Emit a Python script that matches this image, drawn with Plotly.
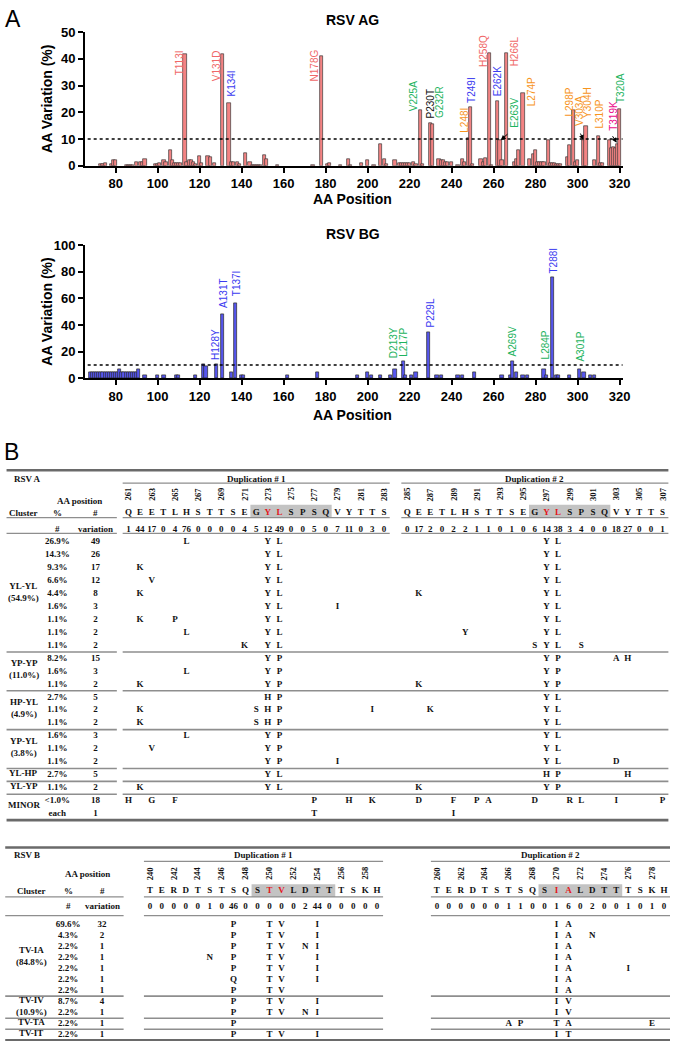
import plotly.graph_objects as go

SANS = "Arial, Liberation Sans, sans-serif"
SERIF = "Times New Roman, Liberation Serif, serif"
W, H = 678, 1049

# ---------------------------------------------------------------- panel A data
# RSV AG: amino-acid position -> variation (%)
ag_pos = [73, 74, 75, 78, 79, 80, 85, 86, 87, 88, 90, 92, 93, 94,
          99, 100, 101, 103, 104, 106, 107, 108, 109, 110, 111, 113, 114, 115, 116, 117, 118,
          120, 121, 124, 125, 127, 131, 134, 135, 136, 138, 139, 142, 144,
          145, 146, 147, 148, 149, 151, 152, 157, 174, 178, 181, 182, 187, 191, 192,
          197, 200, 203, 206, 208, 209, 213, 215, 216, 217, 218, 219, 220,
          222, 223, 225, 226, 230, 231, 234, 235, 236, 237, 238, 240,
          243, 245, 246, 248, 249, 250, 254, 255, 256, 258, 259,
          262, 263, 264, 266, 270, 271, 272, 274, 277, 279, 280,
          281, 282, 283, 284, 286, 287, 288, 289, 290, 291, 292,
          295, 296, 298, 299, 300, 303, 304, 308, 310, 311, 312,
          315, 316, 317, 318, 319, 320]
ag_val = [0.5, 0.5, 1.1, 0.6, 1.9, 1.9, 0.3, 0.3, 0.3, 0.3, 1.3, 1.5, 1.5, 2.5,
          0.4, 0.6, 0.8, 1.9, 1.2, 5.8, 1.9, 0.9, 0.9, 0.9, 0.9, 41.8, 1.5, 2.0, 2.2, 1.5, 0.6,
          3.6, 0.9, 3.6, 3.1, 0.9, 41.8, 23.6, 1.2, 1.3, 1.3, 0.7, 4.7, 1.3,
          0.3, 0.3, 0.3, 0.3, 0.3, 4.1, 2.5, 0.3, 0.3, 41.2, 0.4, 0.9, 0.3, 2.5, 0.3,
          1.0, 2.0, 0.3, 8.2, 2.5, 0.5, 2.0, 1.0, 1.0, 1.0, 1.0, 1.0, 1.0,
          1.5, 0.5, 20.9, 0.5, 15.9, 15.4, 2.5, 2.0, 2.0, 1.5, 1.5, 1.3,
          0.3, 2.5, 1.3, 10.4, 22.1, 0.5, 2.5, 1.5, 2.7, 42.3, 0.3,
          24.1, 9.4, 2.0, 42.3, 1.5, 2.5, 6.0, 27.0, 2.5, 4.4, 5.9,
          1.5, 1.5, 1.5, 1.5, 9.4, 0.8, 0.8, 0.8, 0.5, 0.5, 0.5,
          3.3, 7.7, 20.9, 1.5, 2.2, 9.4, 14.8, 2.0, 11.0, 0.8, 0.8,
          9.4, 6.6, 7.1, 6.6, 8.2, 21.3]

# RSV BG
bg_pos = [68, 69, 70, 71, 72, 73, 74, 75, 76, 77, 78, 79, 80, 81, 82, 83, 84, 85, 86, 87, 88, 89, 90, 91,
          94, 100, 103, 109, 110, 118, 122, 123, 128, 131, 135, 137, 140, 141, 162, 176,
          195, 200, 202, 206, 211, 213, 217, 218, 221, 223, 229, 233, 235, 243, 245, 251,
          264, 268, 269, 271, 274, 276, 284, 285, 288, 290, 291, 296, 301, 303, 306, 308]
bg_val = [4.3, 4.3, 4.3, 4.3, 4.3, 4.3, 4.3, 4.3, 4.3, 4.3, 4.3, 4.3, 4.3, 4.3, 6.5, 4.3, 4.3, 4.3, 4.3, 4.3, 4.3, 4.3, 4.3, 6.5,
          2.2, 2.2, 2.2, 2.2, 2.2, 2.2, 10.9, 8.7, 10.9, 47.8, 4.3, 56.5, 2.2, 2.2, 2.2, 4.3,
          2.2, 4.3, 2.2, 2.2, 2.2, 6.5, 13.0, 2.2, 2.2, 4.3, 34.8, 2.2, 2.2, 2.2, 2.2, 4.3,
          2.2, 2.2, 13.0, 4.3, 2.2, 2.2, 6.5, 2.2, 76.1, 2.2, 2.2, 2.2, 6.5, 4.3, 2.2, 2.2]

SALMON, BLUE, GREEN = "#F06868", "#3B3BF0", "#1DB35E"
ORANGE, MAGENTA, BLACK = "#F7941D", "#EC0C8C", "#111111"

ag_mut = ["T113I", "V131D", "K134I", "N178G", "V225A", "P230T", "G232R", "L248I", "T249I", "H258Q",
          "E262K", "H266L", "E263V", "L274P", "L298P", "V303A", "Y304H", "L310P", "T319K", "T320A"]
ag_mut_color = [SALMON, SALMON, BLUE, SALMON, GREEN, BLACK, GREEN, ORANGE, BLUE, SALMON,
                BLUE, SALMON, GREEN, ORANGE, ORANGE, ORANGE, ORANGE, ORANGE, MAGENTA, GREEN]
# label anchor: x, and y of the bottom of the rotated text (data units)
ag_mut_xy = [(110.3, 33.0), (127.8, 30.7), (135.0, 25.2), (174.8, 30.7), (222.0, 19.6),
             (230.0, 17.0), (234.3, 17.0), (246.0, 11.5), (249.5, 22.6), (255.5, 36.3),
             (262.0, 25.2), (270.0, 36.3), (270.0, 13.3), (278.0, 21.5), (296.3, 17.8),
             (301.0, 14.0), (305.0, 17.0), (310.6, 13.3), (316.7, 12.2), (320.5, 22.6)]
# arrows: (head x, head y, tail x, tail y)
ag_arrows = [(263.4, 9.6, 267.3, 12.3), (302.8, 9.6, 301.0, 12.6), (318.6, 8.6, 316.2, 11.6)]

bg_mut = ["H128Y", "A131T", "T137I", "D213Y", "L217P", "P229L", "A269V", "L284P", "T288I", "A301P"]
bg_mut_color = [BLUE, BLUE, BLUE, GREEN, GREEN, BLUE, GREEN, GREEN, BLUE, GREEN]
bg_mut_xy = [(127.6, 12.4), (131.0, 51.6), (137.5, 60.5), (212.0, 13.9), (217.0, 14.6),
             (230.0, 36.8), (269.0, 14.6), (284.5, 12.4), (288.5, 77.6), (301.5, 10.9)]

# ---------------------------------------------------------------- panel B data
a_starts = [261, 285]
a_seqs = ["QEETLHSTTSEGYLSPSQVYTTS", "QEETLHSTTSEGYLSPSQVYTTS"]
a_var = [[1, 44, 17, 0, 4, 76, 0, 0, 0, 0, 4, 5, 12, 49, 0, 0, 5, 0, 7, 11, 0, 3, 0],
         [0, 17, 2, 0, 2, 2, 1, 1, 0, 1, 0, 6, 14, 38, 3, 4, 0, 0, 18, 27, 0, 0, 1]]
a_boxes = [(272, 278), (296, 302)]
a_red = [273, 274, 297, 298]
a_cluster = ["YL-YL<br>(54.9%)", "YP-YP<br>(11.0%)", "HP-YL<br>(4.9%)", "YP-YL<br>(3.8%)",
             "YL-HP", "YL-YP", "MINOR"]
a_cluster_rows = [9, 3, 3, 3, 1, 1, 2]
a_pct = ["26.9%", "14.3%", "9.3%", "6.6%", "4.4%", "1.6%", "1.1%", "1.1%", "1.1%",
         "8.2%", "1.6%", "1.1%", "2.7%", "1.1%", "1.1%", "1.6%", "1.1%", "1.1%",
         "2.7%", "1.1%", "<1.0%", "each"]
a_num = [49, 26, 17, 12, 8, 3, 2, 2, 2, 15, 3, 2, 5, 2, 2, 3, 2, 2, 5, 2, 18, 1]
a_subs = ["266L 273Y 274L 297Y 298L",
          "273Y 274L 297Y 298L",
          "262K 273Y 274L 297Y 298L",
          "263V 273Y 274L 297Y 298L",
          "262K 273Y 274L 286K 297Y 298L",
          "273Y 274L 279I 297Y 298L",
          "262K 265P 273Y 274L 297Y 298L",
          "266L 273Y 274L 290Y 297Y 298L",
          "271K 273Y 274L 296S 297Y 298L 300S",
          "273Y 274P 297Y 298P 303A 304H",
          "266L 273Y 274P 297Y 298P",
          "262K 273Y 274P 286K 297Y 298P",
          "273H 274P 297Y 298L",
          "262K 272S 273H 274P 282I 287K 297Y 298L",
          "262K 272S 273H 274P 297Y 298L",
          "266L 273Y 274P 297Y 298L",
          "263V 273Y 274P 297Y 298L",
          "273Y 274P 279I 297Y 298L 303D",
          "273Y 274L 297H 298P 304H",
          "262K 273Y 274L 286K 297Y 298P",
          "261H 263G 265F 277P 280H 282K 286D 289F 291P 292A 296D 299R 300L 303I 307P",
          "277T 289I"]

b_starts = [240, 260]
b_seqs = ["TERDTSTSQSTVLDTTTSKH", "TERDTSTSQSIALDTTTSKH"]
b_var = [[0, 0, 0, 0, 0, 1, 0, 46, 0, 0, 0, 0, 0, 2, 44, 0, 0, 0, 0, 0],
         [0, 0, 0, 0, 0, 0, 1, 1, 0, 0, 1, 6, 0, 2, 0, 0, 1, 0, 1, 0]]
b_boxes = [(249, 255), (269, 275)]
b_red = [250, 251, 270, 271]
b_cluster = ["TV-IA<br>(84.8%)", "TV-IV<br>(10.9%)", "TV-TA", "TV-IT"]
b_cluster_rows = [7, 2, 1, 1]
b_pct = ["69.6%", "4.3%", "2.2%", "2.2%", "2.2%", "2.2%", "2.2%", "8.7%", "2.2%", "2.2%", "2.2%"]
b_num = [32, 2, 1, 1, 1, 1, 1, 4, 1, 1, 1]
b_subs = ["247P 250T 251V 254I 270I 271A",
          "247P 250T 251V 254I 270I 271A 273N",
          "247P 250T 251V 253N 254I 270I 271A",
          "245N 247P 250T 251V 254I 270I 271A",
          "247P 250T 251V 254I 270I 271A 276I",
          "247Q 250T 251V 254I 270I 271A",
          "247P 250T 251V 270I 271A",
          "247P 250T 251V 254I 270I 271V",
          "247P 250T 251V 253N 254I 270I 271V",
          "247P 266A 267P 270T 271A 278E",
          "247P 250T 251V 254I 270I 271T"]


def px(x):
    return x / W


def py(y):
    return 1 - y / H


fig = go.Figure()

# ---------------------------------------------------------------- bar charts
fig.add_trace(go.Bar(x=ag_pos, y=ag_val, width=1.5, marker_color="#F38383",
                     marker_line_color="#3A3A3A", marker_line_width=0.7,
                     xaxis="x", yaxis="y", showlegend=False))
fig.add_trace(go.Bar(x=bg_pos, y=bg_val, width=1.5, marker_color="#5656EE",
                     marker_line_color="#2A2A2A", marker_line_width=0.7,
                     xaxis="x2", yaxis="y2", showlegend=False))

annots = []
shapes = []

for ya, yr in (("y", 10), ("y2", 10)):
    shapes.append(dict(type="line", xref=ya.replace("y", "x") + " domain", yref=ya,
                       x0=0.005, x1=1, y0=yr, y1=yr,
                       line=dict(color="black", width=1.5, dash="dot")))

for txt, col, (lx, ly) in zip(ag_mut, ag_mut_color, ag_mut_xy):
    annots.append(dict(text=txt, x=lx, y=ly, xref="x", yref="y", textangle=-90,
                       xanchor="center", yanchor="bottom", showarrow=False,
                       font=dict(family=SANS, size=10, color=col)))
for hx, hy, tx, ty in ag_arrows:
    annots.append(dict(text="", x=hx, y=hy, ax=tx, ay=ty, xref="x", yref="y",
                       axref="x", ayref="y", showarrow=True, arrowhead=2,
                       arrowsize=1, arrowwidth=1, arrowcolor="black"))
for txt, col, (lx, ly) in zip(bg_mut, bg_mut_color, bg_mut_xy):
    annots.append(dict(text=txt, x=lx, y=ly, xref="x2", yref="y2", textangle=-90,
                       xanchor="center", yanchor="bottom", showarrow=False,
                       font=dict(family=SANS, size=10, color=col)))


def paper_note(text, x, y, font, angle=0, xanchor="center"):
    annots.append(dict(text=text, x=px(x), y=py(y), xref="paper", yref="paper",
                       xanchor=xanchor, yanchor="middle", textangle=angle,
                       showarrow=False, font=font))


bold14 = dict(family=SANS, size=14, color="black", weight="bold")
for title, ty, cy, xy in (("RSV AG", 13, 93.3, 195), ("RSV BG", 230, 309.2, 414)):
    paper_note(title, 357, ty, bold14)
    paper_note("AA Variation (%)", 47.5, cy, bold14, angle=-90)
    paper_note("AA Position", 357, xy, bold14)
paper_note("A", 3, 12, dict(family=SANS, size=23, color="black"), xanchor="left")
paper_note("B", 2, 451, dict(family=SANS, size=23, color="black"), xanchor="left")


# ---------------------------------------------------------------- tables
def col_of(pos, starts):
    for k in range(len(starts) - 1, -1, -1):
        if pos >= starts[k]:
            return pos - starts[k] + 24 * k


def add_table(xa, ya, name, starts, seqs, var, boxes, reds, clusters, cl_rows,
              pct, num, subs, L):
    xr, yr = xa.replace("axis", ""), ya.replace("axis", "")
    f9 = dict(family=SERIF, size=9, color=BLACK)

    # gray boxes behind the repeated motif
    for a, b in boxes:
        shapes.append(dict(type="rect", xref=xr, yref=yr, layer="below",
                           x0=col_of(a, starts) - 0.5, x1=col_of(b, starts) + 0.5,
                           y0=L["box"][0], y1=L["box"][1],
                           fillcolor="#C3C3C3", line_width=0))

    # reference sequence and variation counts
    sx, sy, st, sc = [], [], [], []
    for start, seq, vv in zip(starts, seqs, var):
        for i, ch in enumerate(seq):
            c = col_of(start + i, starts)
            sx += [c, c]
            sy += [L["seq_row"], L["var_row"]]
            st += ["<b>%s</b>" % ch, "<b>%d</b>" % vv[i]]
            sc += ["#E3171C" if start + i in reds else BLACK, BLACK]
            if i % 2 == 0:
                annots.append(dict(text="<b>%d</b>" % (start + i), x=c, y=L["pos_row"],
                                   xref=xr, yref=yr, textangle=-90, showarrow=False,
                                   xanchor="center", yanchor="middle",
                                   font=dict(family=SERIF, size=8.5, color=BLACK)))
    # substitutions per row
    for r, row in enumerate(subs):
        for tok in row.split():
            sx.append(col_of(int(tok[:-1]), starts))
            sy.append(r)
            st.append("<b>%s</b>" % tok[-1])
            sc.append(BLACK)
    # percent / count columns
    for r, (p, n) in enumerate(zip(pct, num)):
        sx += [L["pct_x"], L["num_x"]]
        sy += [r, r]
        st += ["<b>%s</b>" % p, "<b>%d</b>" % n]
        sc += [BLACK, BLACK]
    fig.add_trace(go.Scatter(x=sx, y=sy, text=st, mode="text", xaxis=xr, yaxis=yr,
                             textfont=dict(family=SERIF, size=9, color=sc),
                             showlegend=False, hoverinfo="skip"))

    def note(text, x, y, anchor="center"):
        annots.append(dict(text="<b>%s</b>" % text, x=x, y=y, xref=xr, yref=yr,
                           xanchor=anchor, yanchor="middle", showarrow=False, font=f9))

    note(name, L["title_x"], L["dup_row"], "left")
    note("AA position", L["aa_x"], L["aa_row"])
    note("Cluster", L["cl_x"], L["seq_row"])
    note("%", L["pct_x"], L["seq_row"])
    note("#", L["num_x"], L["seq_row"])
    note("#", L["pct_x"], L["var_row"])
    note("variation", L["num_x"], L["var_row"])
    for k, (a, b) in enumerate(L["spans"]):
        note("Duplication # %d" % (k + 1), (a + b) / 2, L["dup_row"])

    # cluster names and separators
    r0 = 0
    for cname, n in zip(clusters, cl_rows):
        note(cname, L["cl_x"], r0 + (n - 1) / 2 - 0.15)
        r0 += n
        if r0 < len(pct):
            segs = [(L["left"], L["left_end"])]
            if L["join"]:
                segs.append((L["spans"][0][0], L["spans"][-1][1]))
            else:
                segs += L["spans"]
            for a, b in segs:
                shapes.append(dict(type="line", xref=xr, yref=yr, x0=a, x1=b,
                                   y0=r0 - 0.5, y1=r0 - 0.5,
                                   line=dict(color="#8E8E8E", width=1.6)))

    def hline(y, a, b, w=1.0, c="#8E8E8E"):
        shapes.append(dict(type="line", xref=xr, yref=yr, x0=a, x1=b, y0=y, y1=y,
                           line=dict(color=c, width=w)))

    right = L["spans"][-1][1]
    hline(L["top"], L["left"], right, 2.5, "#6A6A6A")
    hline(len(pct) - 0.5, L["left"], right, 2.8, "#6A6A6A")
    for a, b in L["spans"]:
        hline(L["dup_line"], a, b, 1.2)
    for y in (L["seq_line"], L["var_line"]):
        hline(y, L["left"], L["left_end"], 1.2)
        for a, b in L["spans"]:
            hline(y, a, b, 1.2)


TA = dict(x_range=[-130 / 11.75, (W - 130) / 11.75],
          y_range=[(H - 542.7) / 13.13, -542.7 / 13.13],
          left=-10.5, left_end=-1.0, spans=[(-0.5, 22.5), (23.5, 46.5)], join=True,
          top=-5.54, dup_row=-4.85, dup_line=-4.55, pos_row=-3.7, aa_row=-3.2,
          box=(-2.87, -1.88), seq_row=-2.26, seq_line=-1.88, var_row=-0.97, var_line=-0.66,
          title_x=-10.04, aa_x=-4.26, cl_x=-9.0, pct_x=-6.13, num_x=-2.83)
TB = dict(x_range=[-151.7 / 12.1, (W - 151.7) / 12.1],
          y_range=[(H - 930.7) / 11.2, -930.7 / 11.2],
          left=-12.1, left_end=-2.2, spans=[(-0.5, 19.5), (23.5, 43.5)], join=False,
          top=-6.96, dup_row=-6.31, dup_line=-5.71, pos_row=-4.63, aa_row=-4.59,
          box=(-3.63, -2.47), seq_row=-3.04, seq_line=-2.5, var_row=-1.64, var_line=-0.8,
          title_x=-11.55, aa_x=-5.18, cl_x=-9.92, pct_x=-6.85, num_x=-4.0)

add_table("xaxis3", "yaxis3", "RSV A", a_starts, a_seqs, a_var, a_boxes, a_red,
          a_cluster, a_cluster_rows, a_pct, a_num, a_subs, TA)
add_table("xaxis4", "yaxis4", "RSV B", b_starts, b_seqs, b_var, b_boxes, b_red,
          b_cluster, b_cluster_rows, b_pct, b_num, b_subs, TB)

# ---------------------------------------------------------------- layout
tick = dict(family=SANS, size=13, color="black", weight="bold")
ax_common = dict(showgrid=False, zeroline=False, showline=True, linecolor="black",
                 linewidth=2, ticks="outside", ticklen=5, tickwidth=2, tickcolor="black",
                 tickfont=tick, fixedrange=True)
x_dom = [px(86), px(630)]
hidden = dict(visible=False, fixedrange=True)

fig.update_layout(
    width=W, height=H, autosize=False,
    margin=dict(l=0, r=0, t=0, b=0),
    paper_bgcolor="white", plot_bgcolor="rgba(0,0,0,0)",
    bargap=0, showlegend=False,
    xaxis=dict(domain=x_dom, range=[65.4, 321.4], dtick=20, tick0=0, anchor="y", **ax_common),
    yaxis=dict(domain=[py(161), py(25.5)], range=[0, 50], dtick=10, anchor="x", **ax_common),
    xaxis2=dict(domain=x_dom, range=[65.4, 321.4], dtick=20, tick0=0, anchor="y2", **ax_common),
    yaxis2=dict(domain=[py(376.7), py(241.7)], range=[0, 100], dtick=20, anchor="x2", **ax_common),
    xaxis3=dict(domain=[0, 1], range=TA["x_range"], anchor="y3", **hidden),
    yaxis3=dict(domain=[0, 1], range=TA["y_range"], anchor="x3", **hidden),
    xaxis4=dict(domain=[0, 1], range=TB["x_range"], anchor="y4", **hidden),
    yaxis4=dict(domain=[0, 1], range=TB["y_range"], anchor="x4", **hidden),
    annotations=annots,
    shapes=shapes,
)

fig.write_html("out.html", config={"displayModeBar": False},
               post_script="document.body.style.margin='0';")
